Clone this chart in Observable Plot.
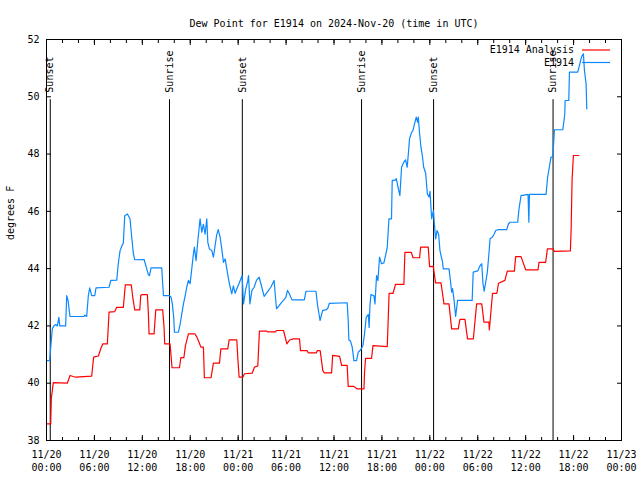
<!DOCTYPE html>
<html>
<head>
<meta charset="utf-8">
<script src="https://cdn.jsdelivr.net/npm/d3@7"></script>
<script src="https://cdn.jsdelivr.net/npm/@observablehq/plot@0.6"></script>
<style>
  html, body { margin: 0; padding: 0; background: #fff; }
  #chart { width: 640px; height: 480px; }
</style>
</head>
<body>
<div id="chart"></div>
<script>
// ---- data (hours after 2024-11-20 00:00 UTC, dew point °F) ----
const startISO = "2024-11-20T00:00:00Z";
const titleText = "Dew Point for E1914 on 2024-Nov-20 (time in UTC)";
const yLabelText = "degrees F";
const seriesNames = ["E1914 Analysis", "E1914"];
const seriesColors = ["#ff0000", "#0a88ff"];

const analysisHours = [0, 0.53, 0.6, 0.85, 2.6, 2.95, 3.65, 5.66, 5.9, 6.5, 6.79, 7.04, 7.62, 7.83, 8.54, 8.79, 9.62, 9.87, 10.62, 10.8, 11.05, 11.68, 11.8, 11.93, 12.63, 12.76, 12.84, 13.47, 13.68, 14.55, 14.72, 14.8, 15.47, 15.72, 16.65, 16.82, 17.2, 17.4, 17.77, 18.6, 18.85, 19.1, 19.33, 19.65, 19.77, 20.6, 20.9, 21.66, 21.83, 22.7, 22.87, 23.83, 23.96, 24.12, 24.59, 24.79, 25.75, 26.04, 26.46, 26.66, 27.59, 27.7, 28.68, 28.8, 29.68, 30.1, 30.43, 30.93, 31.68, 31.8, 32.64, 32.77, 33.77, 33.93, 34.27, 34.6, 34.8, 35.7, 35.83, 36.7, 36.95, 37.65, 37.78, 38.49, 38.9, 39.75, 39.82, 39.95, 40.7, 40.88, 42.67, 42.9, 43.4, 43.7, 44.75, 44.88, 45.68, 45.9, 46.72, 46.85, 47.8, 47.97, 48.43, 48.72, 49.4, 49.77, 50.4, 50.73, 51.56, 51.77, 52.4, 52.72, 53.45, 53.86, 54.5, 54.78, 55.4, 55.45, 55.85, 56.4, 56.6, 57.4, 57.7, 58.58, 58.75, 59.42, 60.0, 61.55, 61.67, 62.5, 62.72, 63.42, 63.6, 65.6, 65.7, 65.81, 65.98, 66.65];
const analysisValues = [38.58, 38.58, 39.45, 40.02, 40.0, 40.27, 40.21, 40.25, 40.91, 40.95, 41.2, 41.37, 41.37, 42.48, 42.5, 42.65, 42.65, 43.43, 43.43, 43.0, 42.56, 42.56, 43.06, 43.09, 43.09, 42.42, 41.72, 41.72, 42.56, 42.56, 41.95, 41.37, 41.37, 40.54, 40.54, 40.89, 40.89, 41.31, 41.72, 41.72, 41.6, 41.43, 41.26, 41.26, 40.19, 40.19, 40.7, 40.7, 41.2, 41.2, 41.51, 41.51, 40.85, 40.21, 40.21, 40.33, 40.35, 40.56, 40.6, 41.82, 41.82, 41.79, 41.79, 41.84, 41.84, 41.37, 41.51, 41.55, 41.55, 41.14, 41.14, 41.06, 41.06, 41.14, 41.14, 40.44, 40.36, 40.36, 40.97, 40.94, 40.62, 40.62, 39.89, 39.89, 39.8, 39.8, 40.35, 40.87, 40.87, 41.31, 41.28, 43.14, 43.14, 43.45, 43.45, 44.57, 44.57, 44.38, 44.38, 44.75, 44.75, 44.07, 44.08, 43.5, 43.5, 42.77, 42.77, 41.9, 41.9, 42.23, 42.23, 41.55, 41.55, 42.77, 42.77, 42.13, 42.13, 41.86, 43.14, 43.14, 43.49, 43.59, 43.91, 43.91, 44.42, 44.42, 43.96, 43.96, 44.22, 44.22, 44.69, 44.69, 44.6, 44.62, 45.43, 47.1, 47.95, 47.95];

const stationHours = [0, 0.4, 0.53, 0.73, 0.94, 1.15, 1.36, 1.55, 1.66, 2.4, 2.53, 2.7, 2.94, 4.69, 4.78, 5.03, 5.24, 5.41, 5.66, 6.04, 6.2, 7.83, 8.05, 8.8, 8.96, 9.21, 9.45, 9.62, 9.8, 10.13, 10.46, 10.63, 10.88, 11.05, 12.22, 12.47, 12.76, 12.9, 13.09, 14.43, 14.64, 15.39, 15.6, 15.76, 15.93, 16.02, 16.52, 16.73, 16.94, 17.15, 17.4, 17.56, 17.77, 17.98, 18.19, 18.4, 18.52, 18.73, 18.94, 19.06, 19.23, 19.44, 19.65, 19.86, 20.07, 20.2, 20.4, 20.7, 20.9, 21.3, 21.5, 21.74, 21.95, 22.16, 22.37, 22.58, 22.79, 23.0, 23.2, 23.4, 23.62, 23.83, 24.1, 24.5, 24.67, 24.92, 25.21, 25.3, 25.47, 25.72, 26.0, 26.29, 26.63, 26.96, 27.25, 27.67, 28.09, 28.5, 28.63, 28.8, 29.13, 29.34, 29.97, 30.18, 30.39, 30.73, 32.28, 32.49, 33.74, 33.95, 34.25, 34.58, 34.95, 35.2, 35.42, 37.65, 37.78, 37.86, 38.07, 38.28, 38.49, 38.82, 39.03, 39.32, 39.62, 39.82, 40.03, 40.3, 40.4, 40.5, 40.63, 41.0, 41.13, 41.33, 41.5, 41.7, 41.95, 42.25, 42.46, 42.67, 42.88, 43.2, 43.29, 43.63, 43.8, 44.05, 44.25, 44.46, 44.75, 44.96, 45.17, 45.46, 45.71, 45.88, 46.13, 46.3, 46.47, 46.55, 46.72, 46.89, 47.06, 47.23, 47.48, 47.69, 47.9, 48.02, 48.23, 48.44, 48.57, 48.73, 48.9, 49.1, 49.27, 49.4, 49.56, 49.69, 50.4, 50.6, 50.73, 50.85, 51.06, 51.23, 51.48, 53.3, 53.43, 54.0, 54.3, 54.5, 54.65, 54.8, 55.0, 55.2, 55.4, 55.54, 55.83, 56.05, 56.25, 56.5, 57.63, 57.84, 58.05, 59.0, 59.17, 59.42, 60.3, 60.4, 60.47, 62.55, 62.75, 62.96, 63.17, 63.38, 63.5, 63.6, 64.65, 64.9, 64.94, 65.4, 65.48, 66.52, 66.73, 66.94, 67.07, 67.23, 67.36, 67.57, 67.65];
const stationValues = [40.79, 40.79, 41.26, 41.9, 42.01, 42.05, 42.0, 42.3, 42.0, 42.0, 43.06, 42.89, 42.33, 42.33, 42.38, 42.33, 43.06, 43.33, 43.06, 43.06, 43.33, 43.35, 43.59, 43.6, 44.11, 44.63, 44.8, 44.89, 45.85, 45.91, 45.74, 45.22, 44.52, 44.31, 44.32, 44.07, 43.79, 43.76, 44.03, 44.03, 43.06, 43.06, 43.0, 42.77, 42.3, 41.78, 41.78, 42.05, 42.42, 42.77, 43.1, 43.35, 43.59, 43.47, 43.99, 44.52, 44.75, 44.28, 44.95, 45.27, 45.74, 45.27, 45.55, 45.2, 45.74, 44.92, 44.69, 44.63, 44.4, 45.16, 45.36, 45.1, 44.69, 44.22, 44.34, 43.99, 43.64, 43.35, 43.12, 43.4, 43.14, 43.3, 43.47, 43.76, 42.77, 43.24, 43.59, 43.76, 42.77, 43.24, 43.35, 43.59, 43.7, 43.35, 43.03, 43.19, 43.35, 43.59, 43.13, 42.6, 42.71, 42.79, 43.0, 43.24, 43.13, 42.91, 42.91, 43.21, 43.21, 42.71, 42.19, 42.54, 42.56, 42.6, 42.79, 42.81, 42.2, 41.51, 41.47, 41.26, 40.79, 40.79, 41.08, 41.16, 41.31, 41.72, 42.3, 42.4, 41.95, 42.71, 43.1, 43.05, 42.77, 43.76, 43.58, 44.4, 44.17, 44.2, 44.46, 44.75, 45.74, 45.74, 47.08, 47.08, 47.14, 46.8, 46.55, 47.54, 47.72, 47.8, 47.54, 48.53, 48.76, 48.82, 49.11, 49.29, 49.11, 49.29, 48.71, 48.24, 47.95, 47.54, 47.33, 46.61, 46.5, 46.7, 45.74, 46.03, 45.56, 45.04, 45.33, 45.2, 44.63, 44.45, 44.28, 43.99, 43.99, 43.53, 43.18, 43.3, 42.83, 42.33, 42.89, 42.89, 43.88, 43.92, 44.11, 44.17, 43.5, 43.21, 43.53, 43.88, 44.52, 45.04, 45.1, 45.2, 45.33, 45.36, 45.36, 45.56, 45.62, 45.62, 46.09, 46.55, 46.59, 45.62, 46.59, 46.59, 47.19, 47.54, 47.89, 47.89, 48.36, 48.85, 48.85, 49.4, 49.87, 49.87, 50.86, 50.86, 51.09, 51.33, 51.44, 51.5, 50.92, 50.45, 49.58];

const eventLabels = ["Sunset", "Sunrise", "Sunset", "Sunrise", "Sunset", "Sunrise"];
const eventHours = [0.47, 15.4, 24.52, 39.45, 48.47, 63.43];
const eventTop = 49.9;

const yTicks = [38, 40, 42, 44, 46, 48, 50, 52];
const xDomainHours = [0, 72];

// ---- build tables ----
const t0 = Date.parse(startISO);
const toDate = h => new Date(t0 + h * 3600e3);
const analysis = analysisHours.map((h, i) => ({time: toDate(h), value: analysisValues[i]}));
const station = stationHours.map((h, i) => ({time: toDate(h), value: stationValues[i]}));
const events = eventHours.map((h, i) => ({time: toDate(h), label: eventLabels[i]}));
const xDomain = xDomainHours.map(toDate);
const majorTicks = d3.utcHour.every(6).range(xDomain[0], new Date(+xDomain[1] + 1));
const minorTicks = d3.utcHour.every(2).range(xDomain[0], new Date(+xDomain[1] + 1));
const fmt = d3.utcFormat("%m/%d\n%H:%M");
const font = "DejaVu Sans Mono";

const plot = Plot.plot({
  width: 640,
  height: 480,
  marginLeft: 46,
  marginRight: 19,
  marginTop: 39,
  marginBottom: 40,
  style: {fontFamily: font, fontSize: "10px", background: "#fff", color: "#000"},
  x: {type: "utc", domain: xDomain},
  y: {domain: [38, 52]},
  marks: [
    Plot.ruleX(events, {x: "time", y1: 38, y2: eventTop, stroke: "#000", strokeWidth: 1}),
    Plot.text(events, {x: "time", y: eventTop, text: "label", rotate: -90, textAnchor: "start", lineAnchor: "middle", dy: -7, fill: "#000", fontSize: 10}),
    Plot.line(analysis, {x: "time", y: "value", stroke: seriesColors[0], strokeWidth: 1.2}),
    Plot.line(station, {x: "time", y: "value", stroke: seriesColors[1], strokeWidth: 1.2}),
    Plot.axisX({anchor: "bottom", ticks: minorTicks, tickSize: -3, tickFormat: () => "", label: null}),
    Plot.axisX({anchor: "top", ticks: minorTicks, tickSize: -3, tickFormat: () => "", label: null}),
    Plot.axisX({anchor: "bottom", ticks: majorTicks, tickSize: -5, tickFormat: () => "", label: null}),
    Plot.axisX({anchor: "top", ticks: majorTicks, tickSize: -5, tickFormat: () => "", label: null}),
    Plot.axisX({anchor: "bottom", ticks: majorTicks, tickSize: 0, tickPadding: 9, tickFormat: fmt, lineHeight: 1.25, label: null, fill: "#000", fontSize: 10}),
    Plot.axisY({anchor: "left", ticks: yTicks, tickSize: -5, tickFormat: () => "", label: null}),
    Plot.axisY({anchor: "right", ticks: yTicks, tickSize: -5, tickFormat: () => "", label: null}),
    Plot.axisY({anchor: "left", ticks: yTicks, tickSize: 0, tickPadding: 7, label: null, fill: "#000", fontSize: 10}),
    Plot.frame({stroke: "#000", strokeWidth: 1}),
    Plot.text([titleText], {frameAnchor: "top", dy: -20, fill: "#000", fontSize: 10}),
    Plot.text([yLabelText], {frameAnchor: "left", dx: -36, rotate: -90, fill: "#000", fontSize: 10})
  ]
});
document.getElementById("chart").appendChild(plot);

// legend (top-right, gnuplot style)
const svg = d3.select(plot);
const lg = svg.append("g").attr("font-family", font).attr("font-size", 10);
seriesNames.forEach((name, i) => {
  const y = 50 + i * 12.5;
  lg.append("text").attr("x", 574).attr("y", y).attr("dy", "0.32em")
    .attr("text-anchor", "end").attr("fill", "#000").text(name);
  lg.append("line").attr("x1", 582).attr("x2", 610).attr("y1", y).attr("y2", y)
    .attr("stroke", seriesColors[i]).attr("stroke-width", 1.2);
});
</script>
</body>
</html>
